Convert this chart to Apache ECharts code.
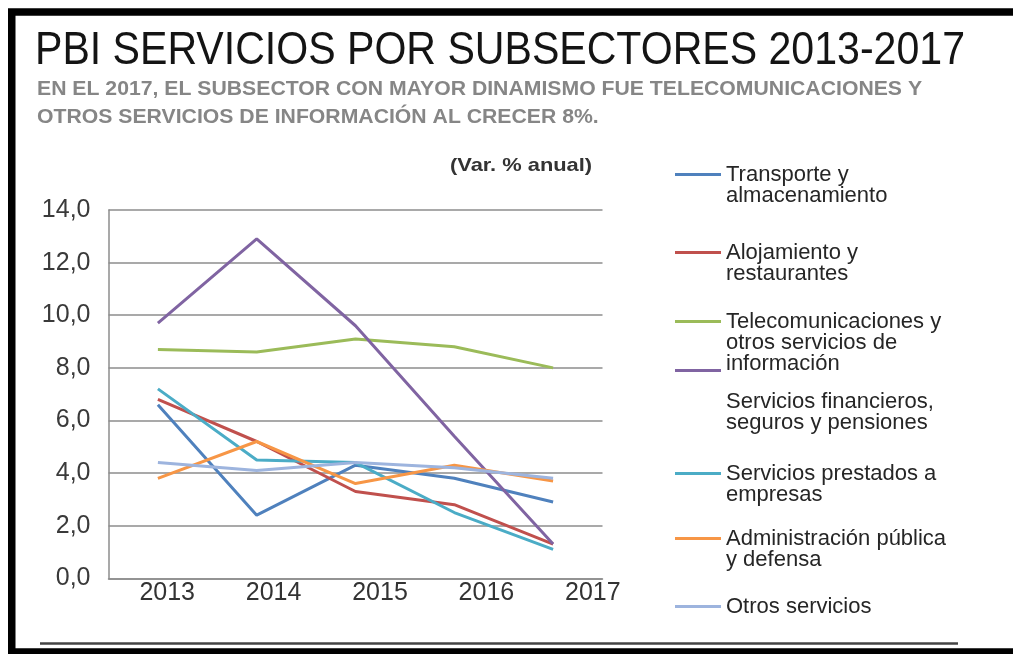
<!DOCTYPE html>
<html>
  <head>
    <meta charset="utf-8" />
    <title>PBI servicios por subsectores</title>
    <script src="https://cdn.jsdelivr.net/npm/echarts@6/dist/echarts.min.js"></script>
    <style>
      html, body { margin: 0; padding: 0; background: #fff; }
    </style>
  </head>
  <body>
    <div id="main" style="width: 1013px; height: 654px"></div>
  </body>

  <script>
    // datos (Var. % anual)
    var years = ["2013", "2014", "2015", "2016", "2017"];
    var transporte = [6.6, 2.4, 4.3, 3.8, 2.9];
    var alojamiento = [6.8, 5.2, 3.3, 2.8, 1.3];
    var telecom = [8.7, 8.6, 9.1, 8.8, 8.0];
    var financieros = [9.7, 12.9, 9.6, 5.4, 1.3];
    var prestados = [7.2, 4.5, 4.4, 2.5, 1.1];
    var administracion = [3.8, 5.2, 3.6, 4.3, 3.7];
    var otros = [4.4, 4.1, 4.4, 4.2, 3.8];

    var names = [
      "Transporte y almacenamiento",
      "Alojamiento y restaurantes",
      "Telecomunicaciones y otros servicios de información",
      "Servicios financieros, seguros y pensiones",
      "Servicios prestados a empresas",
      "Administración pública y defensa",
      "Otros servicios",
    ];
    var legendText = [
      "Transporte y\nalmacenamiento",
      "Alojamiento y\nrestaurantes",
      "Telecomunicaciones y\notros servicios de\ninformación",
      "Servicios financieros,\nseguros y pensiones",
      "Servicios prestados a\nempresas",
      "Administración pública\ny defensa",
      "Otros servicios",
    ];
    var values = [transporte, alojamiento, telecom, financieros, prestados, administracion, otros];
    var colors = ["#4F81BD", "#C0504D", "#9BBB59", "#8064A2", "#4BACC6", "#F79646", "#9DB4DE"];

    var font = "Liberation Sans, Arial, sans-serif";
    var LH = 21;
    // centro del símbolo y líneas en blanco antes del texto
    var legendPos = [[174, 1], [252, 1], [321, 2], [370, 4], [473, 1], [538, 1], [606, 0]];

    var myChart = echarts.init(document.getElementById("main"));

    var legends = names.map(function (n, i) {
      var blanks = legendPos[i][1];
      var txt = new Array(blanks + 1).join("\n") + legendText[i];
      var lines = txt.split("\n").length;
      return {
        left: 675,
        top: legendPos[i][0] - (lines * LH) / 2,
        orient: "vertical",
        padding: 0,
        icon: "rect",
        itemWidth: 46,
        itemHeight: 3,
        data: [n],
        formatter: function () {
          return txt;
        },
        textStyle: { fontFamily: font, fontSize: 22, lineHeight: LH, color: "#262626" },
      };
    });

    var series = names.map(function (n, i) {
      return {
        name: n,
        type: "line",
        data: values[i],
        symbol: "none",
        color: colors[i],
        lineStyle: { width: 3, color: colors[i] },
        z: 3,
      };
    });

    option = {
      backgroundColor: "#fff",
      animation: false,
      legend: legends,
      grid: [
        { left: 108.5, right: 410.5, top: 210, bottom: 75.7 },
        // solo para las etiquetas de los años
        { left: 114, width: 532, top: 210, bottom: 75.7 },
      ],
      xAxis: [
        {
          type: "category",
          data: years,
          boundaryGap: true,
          axisLine: { lineStyle: { color: "#8c8c8c", width: 1.5 } },
          axisTick: { show: false },
          axisLabel: { show: false },
        },
        {
          type: "category",
          gridIndex: 1,
          data: years,
          boundaryGap: true,
          axisLine: { show: false },
          axisTick: { show: false },
          axisLabel: { fontFamily: font, fontSize: 25, color: "#333", margin: 2 },
        },
      ],
      yAxis: [
        {
          type: "value",
          min: 0,
          max: 14,
          interval: 2,
          axisLine: { show: true, lineStyle: { color: "#8c8c8c", width: 1.5 } },
          axisTick: { show: false },
          splitLine: { lineStyle: { color: "#8c8c8c", width: 1.5 } },
          axisLabel: {
            fontFamily: font,
            fontSize: 25,
            color: "#3a3a3a",
            margin: 18,
            formatter: function (v) {
              return v.toFixed(1).replace(".", ",");
            },
          },
        },
        { type: "value", gridIndex: 1, min: 0, max: 14, show: false },
      ],
      graphic: [
        {
          type: "rect",
          shape: { x: 11.75, y: 12, width: 1010, height: 640 },
          style: { fill: "none", stroke: "#000", lineWidth: 7.5 },
        },
        {
          type: "text",
          x: 35,
          y: 51,
          scaleX: 0.874,
          style: {
            text: "PBI SERVICIOS POR SUBSECTORES 2013-2017",
            fontFamily: font,
            fontSize: 47,
            fill: "#141414",
            verticalAlign: "middle",
          },
        },
        {
          type: "text",
          x: 37,
          y: 89,
          scaleX: 1.01,
          style: {
            text: "EN EL 2017, EL SUBSECTOR CON MAYOR DINAMISMO FUE TELECOMUNICACIONES Y",
            fontFamily: font,
            fontWeight: "bold",
            fontSize: 21,
            fill: "#868686",
            verticalAlign: "middle",
          },
        },
        {
          type: "text",
          x: 37,
          y: 117.5,
          scaleX: 1.01,
          style: {
            text: "OTROS SERVICIOS DE INFORMACIÓN AL CRECER 8%.",
            fontFamily: font,
            fontWeight: "bold",
            fontSize: 21,
            fill: "#868686",
            verticalAlign: "middle",
          },
        },
        {
          type: "text",
          x: 450,
          y: 165.5,
          scaleX: 1.15,
          style: {
            text: "(Var. % anual)",
            fontFamily: font,
            fontWeight: "bold",
            fontSize: 19,
            fill: "#333",
            verticalAlign: "middle",
          },
        },
        {
          type: "line",
          shape: { x1: 40, y1: 643.5, x2: 958, y2: 643.5 },
          style: { stroke: "#444", lineWidth: 2.5 },
        },
      ],
      series: series,
    };

    myChart.setOption(option);
  </script>
</html>
